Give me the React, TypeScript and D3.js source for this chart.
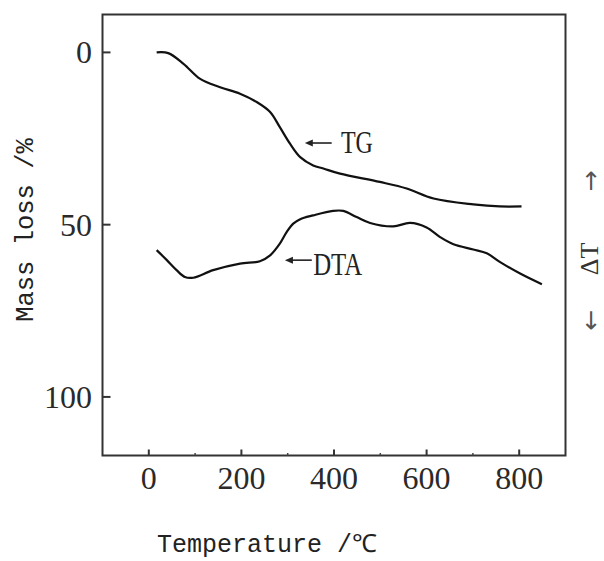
import React from 'react';
import * as d3 from 'd3';

// ---- data ----
const xTicks = [0, 200, 400, 600, 800];
const xMinorTicks = [100, 300, 500, 700];
const yTicks = [0, 50, 100];

const tgTemp = [17, 42, 75, 111, 154, 197, 233, 262, 283, 305, 327, 355, 377, 413, 499, 557, 615, 701, 758, 805];
const tgMass = [0, 0.2, 3.3, 7.7, 10.1, 12.0, 14.4, 17.3, 21.7, 26.5, 30.4, 32.8, 33.7, 35.2, 37.6, 39.5, 42.4, 44.1, 44.7, 44.7];

const dtaTemp = [17, 39, 60, 78, 96, 139, 197, 240, 262, 283, 298, 312, 327, 355, 398, 420, 449, 478, 528, 564, 600, 629, 658, 701, 730, 758, 802, 849];
const dtaValue = [57.4, 60.3, 63.2, 65.2, 65.4, 63.2, 61.3, 60.6, 58.9, 55.5, 52.1, 49.7, 48.4, 47.3, 46.0, 46.0, 47.8, 49.5, 50.5, 49.5, 50.8, 53.6, 55.7, 57.2, 58.3, 60.8, 64.2, 67.3];

const tgNote = { label: 'TG', from: 395, to: 337, at: 26.3, textT: 415, textAt: 29.3 };
const dtaNote = { label: 'DTA', from: 352, to: 294, at: 60.3, textT: 355, textAt: 64.7 };

export default function App() {
  const W = 604, H = 561;
  const x = d3.scaleLinear().domain([-100, 900]).range([102.5, 565.5]);
  const y = d3.scaleLinear().domain([-11, 117]).range([14.5, 455.5]);

  const line = d3.line<[number, number]>().x(d => x(d[0])).y(d => y(d[1])).curve(d3.curveCatmullRom.alpha(0.5));
  const tgPts = tgTemp.map((t, i) => [t, tgMass[i]] as [number, number]);
  const dtaPts = dtaTemp.map((t, i) => [t, dtaValue[i]] as [number, number]);

  const serif = '"Liberation Serif", "Times New Roman", serif';
  const mono = '"Liberation Mono", "DejaVu Sans Mono", monospace';

  const arrow = (n: typeof tgNote) => {
    const x1 = x(n.from), x2 = x(n.to), yy = y(n.at);
    return (
      <g>
        <line x1={x1} y1={yy} x2={x2 + 4} y2={yy} stroke="#222" strokeWidth={1.6} />
        <path d={`M${x2},${yy} L${x2 + 8},${yy - 3.5} L${x2 + 8},${yy + 3.5} Z`} fill="#222" />
      </g>
    );
  };

  return (
    <svg width={W} height={H} style={{ position: 'absolute', left: 0, top: 0, background: '#fff' }}>
      <rect x={0} y={0} width={W} height={H} fill="#fff" />
      <rect x={x(-100)} y={y(-11)} width={x(900) - x(-100)} height={y(117) - y(-11)} fill="none" stroke="#333" strokeWidth={2} />
      {yTicks.map(v => (
        <g key={'y' + v}>
          <line x1={x(-100)} x2={x(-100) + 8} y1={y(v)} y2={y(v)} stroke="#333" strokeWidth={2} />
          <text x={92} y={y(v) + 11} textAnchor="end" fontFamily={serif} fontSize={32} fill="#2a2a2a">{v}</text>
        </g>
      ))}
      {xTicks.map(v => (
        <g key={'x' + v}>
          <line x1={x(v)} x2={x(v)} y1={y(117)} y2={y(117) - 6} stroke="#333" strokeWidth={2} />
          <text x={x(v)} y={489} textAnchor="middle" fontFamily={serif} fontSize={32} fill="#2a2a2a">{v}</text>
        </g>
      ))}
      {xMinorTicks.map(v => (
        <line key={'m' + v} x1={x(v)} x2={x(v)} y1={y(117)} y2={y(117) - 2.5} stroke="#444" strokeWidth={1.5} />
      ))}
      <path d={line(tgPts) || ''} fill="none" stroke="#111" strokeWidth={2.2} strokeLinejoin="round" />
      <path d={line(dtaPts) || ''} fill="none" stroke="#111" strokeWidth={2.2} strokeLinejoin="round" />
      {arrow(tgNote)}
      <text x={x(tgNote.textT)} y={y(tgNote.textAt)} fontFamily={serif} fontSize={32} textLength={32} lengthAdjust="spacingAndGlyphs" fill="#222">{tgNote.label}</text>
      {arrow(dtaNote)}
      <text x={x(dtaNote.textT)} y={y(dtaNote.textAt)} fontFamily={serif} fontSize={32} textLength={49} lengthAdjust="spacingAndGlyphs" fill="#222">{dtaNote.label}</text>
      <text x={157} y={552} fontFamily={mono} fontSize={25} fill="#222">Temperature /℃</text>
      <text transform="translate(33,230) rotate(-90)" textAnchor="middle" fontFamily={mono} fontSize={25.5} fill="#222">Mass loss /%</text>
      <text transform="translate(590,181) rotate(-90)" textAnchor="middle" dominantBaseline="central" fontFamily='"DejaVu Sans", sans-serif' fontSize={25} fill="#555">→</text>
      <text transform="translate(598,259) rotate(-90)" textAnchor="middle" fontFamily={serif} fontSize={26} fill="#333">ΔT</text>
      <text transform="translate(590,320) rotate(-90)" textAnchor="middle" dominantBaseline="central" fontFamily='"DejaVu Sans", sans-serif' fontSize={25} fill="#555">←</text>
    </svg>
  );
}
